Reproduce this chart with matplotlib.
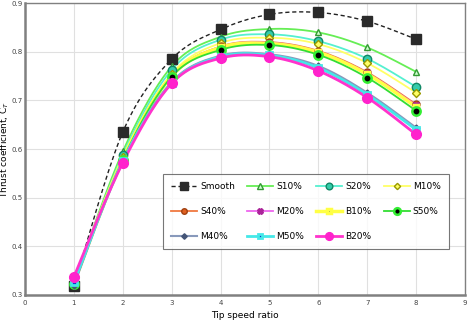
import numpy as np
import matplotlib
matplotlib.use("Agg")
import matplotlib.pyplot as plt

tsr = [1, 2, 3, 4, 5, 6, 7, 8]

smooth = [0.318, 0.635, 0.785, 0.846, 0.877, 0.881, 0.863, 0.826]
s10 = [0.325, 0.595, 0.770, 0.831, 0.847, 0.840, 0.809, 0.759]
s20 = [0.323, 0.588, 0.763, 0.825, 0.836, 0.822, 0.786, 0.728]
m10 = [0.324, 0.584, 0.755, 0.818, 0.829, 0.816, 0.777, 0.716]
s40 = [0.326, 0.580, 0.751, 0.811, 0.820, 0.802, 0.758, 0.692]
m20 = [0.327, 0.580, 0.750, 0.810, 0.819, 0.800, 0.756, 0.690]
b10 = [0.325, 0.579, 0.750, 0.809, 0.817, 0.799, 0.754, 0.687]
s50 = [0.322, 0.578, 0.749, 0.804, 0.814, 0.794, 0.747, 0.679]
m40 = [0.320, 0.576, 0.738, 0.792, 0.795, 0.771, 0.716, 0.644]
m50 = [0.326, 0.575, 0.736, 0.790, 0.793, 0.767, 0.712, 0.640]
b20 = [0.337, 0.572, 0.735, 0.787, 0.790, 0.761, 0.706, 0.630]


def smooth_line(x, y, n=20):
    # Catmull-Rom curve through the points, like Excel's smoothed lines
    x = np.asarray(x, float)
    y = np.asarray(y, float)
    px = np.concatenate([[x[0]], x, [x[-1]]])
    py = np.concatenate([[y[0]], y, [y[-1]]])
    xs, ys = [], []
    t = np.linspace(0, 1, n)
    for i in range(1, len(px) - 2):
        for p, out in ((px, xs), (py, ys)):
            p0, p1, p2, p3 = p[i - 1], p[i], p[i + 1], p[i + 2]
            out.extend(0.5 * (2 * p1 + (-p0 + p2) * t
                              + (2 * p0 - 5 * p1 + 4 * p2 - p3) * t ** 2
                              + (-p0 + 3 * p1 - 3 * p2 + p3) * t ** 3))
    return xs, ys


series = [
    ("Smooth", smooth, dict(color="#222222", ls=(0, (3, 2)), lw=1.0), dict(marker="s", ms=7, mfc="#2a2a2a", mec="#2a2a2a")),
    ("S10%", s10, dict(color="#66ee55", lw=1.3), dict(marker="^", ms=5, mfc="#ccffcc", mec="#339933")),
    ("S20%", s20, dict(color="#55f0d0", lw=1.3), dict(marker="o", ms=6, mfc="#33ccaa", mec="#118866")),
    ("M10%", m10, dict(color="#ffff66", lw=1.3), dict(marker="D", ms=4, mfc="#ffff66", mec="#999900")),
    ("S40%", s40, dict(color="#f07840", lw=1.3), dict(marker="o", ms=5, mfc="#e06020", mec="#a04010")),
    ("M20%", m20, dict(color="#ee66ee", lw=1.3), dict(marker="X", ms=5, mfc="#aa2299", mec="#aa2299")),
    ("B10%", b10, dict(color="#ffff44", lw=2.5), dict(marker="s", ms=3, mfc="#222266", mec="#ffff44", mew=2.5)),
    ("S50%", s50, dict(color="#33dd33", lw=1.3), dict(marker="o", ms=6, mfc="#000000", mec="#33ee33", mew=1.8)),
    ("M40%", m40, dict(color="#8899bb", lw=1.5), dict(marker="D", ms=3.5, mfc="#445577", mec="#445577")),
    ("M50%", m50, dict(color="#44e8e8", lw=2.0), dict(marker="s", ms=4, mfc="#1133cc", mec="#44e8e8", mew=2)),
    ("B20%", b20, dict(color="#ff33cc", lw=2.0), dict(marker="o", ms=7, mfc="#ff22cc", mec="#ff22cc")),
]

fig = plt.figure(figsize=(4.72, 3.23), dpi=100)
ax = fig.add_axes([0.053, 0.087, 0.932, 0.903])

handles = {}
for name, vals, lstyle, mstyle in series:
    xs, ys = smooth_line(tsr, vals)
    ax.plot(xs, ys, zorder=2, **lstyle)
    ax.plot(tsr, vals, ls="none", zorder=3, **mstyle)
    h, = ax.plot([], [], label=name, **lstyle, **mstyle)
    handles[name] = h

ax.set_xlim(0, 9)
ax.set_ylim(0.3, 0.9)
ax.set_xticks(range(0, 10))
ax.set_yticks(np.arange(0.3, 0.91, 0.1))
ax.set_yticklabels([f"{v:.1f}" for v in np.arange(0.3, 0.91, 0.1)])
ax.grid(color="#e0e0e0", lw=0.8)
ax.set_axisbelow(True)
ax.tick_params(labelsize=5, colors="#444444", length=0, pad=3.5)
ax.tick_params(axis="y", pad=1.5)
for s in ax.spines.values():
    s.set_color("#808080")
    s.set_linewidth(1.0)
ax.spines["left"].set_linewidth(1.8)
ax.spines["bottom"].set_linewidth(1.8)

ax.set_xlabel("Tip speed ratio", fontsize=6.5, labelpad=4)
ax.set_ylabel("Thrust coefficient, C$_T$", fontsize=6.5)
ax.yaxis.set_label_coords(-0.031, 0.5)

# matplotlib fills legend columns first; order so rows read like the original
leg_order = ["Smooth", "S40%", "M40%", "S10%", "M20%", "M50%",
             "S20%", "B10%", "B20%", "M10%", "S50%"]
leg = ax.legend(handles=[handles[k] for k in leg_order], ncol=4, fontsize=6.5,
                loc="upper left", bbox_to_anchor=(0.314, 0.414), borderaxespad=0,
                frameon=True, fancybox=False, edgecolor="#555555",
                handlelength=2.9, handletextpad=0.35, columnspacing=1.3,
                labelspacing=1.75, borderpad=0.9, markerscale=0.8)
leg.get_frame().set_linewidth(0.8)

fig.savefig("out.png", dpi=100)
